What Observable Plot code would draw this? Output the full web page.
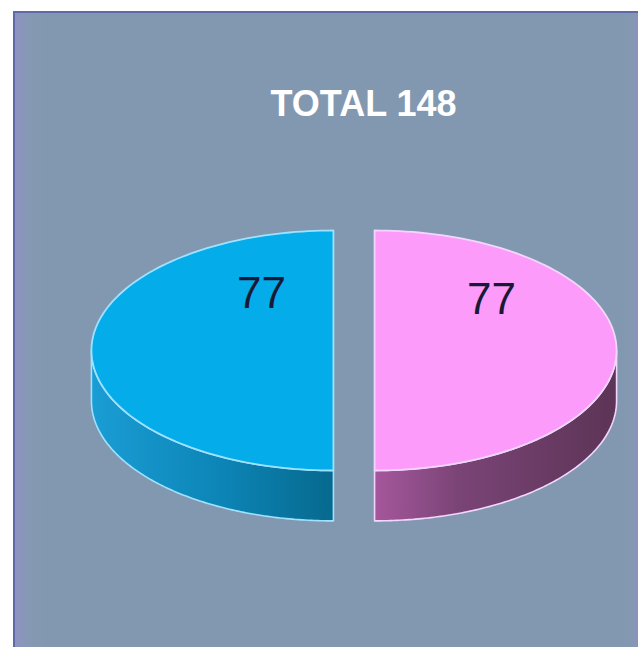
<!DOCTYPE html>
<html>
<head>
<meta charset="utf-8">
<script src="https://cdn.jsdelivr.net/npm/d3@7"></script>
<script src="https://cdn.jsdelivr.net/npm/@observablehq/plot@0.6"></script>
<style>
  html, body { margin: 0; padding: 0; background: #ffffff; width: 638px; height: 647px; overflow: hidden; }
  #panel {
    position: absolute; left: 13px; top: 11px; right: 0; bottom: 0;
    border-left: 2px solid #5f6aa8; border-top: 2px solid #5f6aa8;
    background: linear-gradient(to right, #8e93c2 0px, #8598b4 14px, #8298b0 30px, #8298b0 610px, #8a94b8 625px);
  }
  #chart { position: absolute; left: 0; top: 0; }
</style>
</head>
<body>
<div id="panel"></div>
<div id="chart"></div>
<script>
// ---- data ----
const categories = ["A", "B"];
const values = [77, 77];
const total = 148;
const titleText = "TOTAL " + total;

// ---- styles ----
const topColors = ["#05acea", "#fd9bfb"];
const edgeColors = ["#9fe2ff", "#f3d6fb"];
const sideGradients = [
  [["0%", "#1a9dd5"], ["55%", "#0c84b5"], ["100%", "#07698e"]],
  [["0%", "#a5579c"], ["35%", "#7a4476"], ["100%", "#5c3456"]]
];
const labelOffsets = [[-72, -57], [117, -51]]; // pixel offsets from exploded slice apex
const explode = 0.085;   // in radius units
const depth = 0.42;      // side thickness, in y radius units

// ---- layout ----
const pie = d3.pie().sort(null).startAngle(Math.PI).endAngle(3 * Math.PI);
const arcs = pie(values);
const P = a => [Math.sin(a), -Math.cos(a)];
const N = 120;

const slices = arcs.map((d, i) => {
  const mid = (d.startAngle + d.endAngle) / 2;
  const [ox, oy] = P(mid).map(v => v * explode);
  const top = [{x: ox, y: oy}];
  for (let k = 0; k <= N; k++) {
    const a = d.startAngle + (d.endAngle - d.startAngle) * k / N;
    const [px, py] = P(a);
    top.push({x: ox + px, y: oy + py});
  }
  top.push({x: ox, y: oy});
  // visible front part of the side: angles between PI/2 and 3PI/2 (mod 2PI)
  const norm = a => ((a % (2 * Math.PI)) + 2 * Math.PI) % (2 * Math.PI);
  let s0 = norm(d.startAngle), s1 = s0 + (d.endAngle - d.startAngle);
  const lo = Math.max(s0, Math.PI / 2), hi = Math.min(s1, 3 * Math.PI / 2);
  const side = [];
  if (hi > lo) {
    const upper = [], lower = [];
    for (let k = 0; k <= N; k++) {
      const a = lo + (hi - lo) * k / N;
      const [px, py] = P(a);
      upper.push({x: ox + px, y: oy + py});
      lower.push({x: ox + px, y: oy + py + depth});
    }
    side.push(...upper, ...lower.reverse(), upper[0]);
  }
  return {i, category: categories[i], value: d.value, ox, oy, top, side};
});

const marks = [];
slices.forEach(s => {
  if (s.side.length) {
    marks.push(Plot.line(s.side, {x: "x", y: "y", fill: `url(#side${s.i})`, stroke: edgeColors[s.i], strokeWidth: 1.6, strokeLinejoin: "round"}));
  }
});
slices.forEach(s => {
  marks.push(Plot.line(s.top, {x: "x", y: "y", fill: topColors[s.i], stroke: edgeColors[s.i], strokeWidth: 1.8, strokeLinejoin: "round"}));
});
slices.forEach(s => {
  marks.push(Plot.text([s], {
    x: "ox", y: "oy", text: d => String(d.value),
    dx: labelOffsets[s.i][0], dy: labelOffsets[s.i][1],
    fontSize: 44, fill: "#161a36", fontFamily: "Liberation Sans, Arial, sans-serif"
  }));
});
marks.push(Plot.text([titleText], {
  frameAnchor: "top", dx: 44, dy: 104, lineAnchor: "middle", text: d => d,
  fontSize: 36, fontWeight: "bold", fill: "#ffffff",
  fontFamily: "Liberation Sans, Arial, sans-serif", letterSpacing: "-0.5px"
}));

const chart = Plot.plot({
  width: 638, height: 647,
  margin: 0,
  style: {background: "transparent", overflow: "visible"},
  x: {domain: [-1, 1], range: [111.5, 595.5], axis: null},
  y: {domain: [-1, 1], range: [230, 470], axis: null},
  marks
});

// gradient definitions for the side faces
const ns = "http://www.w3.org/2000/svg";
const defs = document.createElementNS(ns, "defs");
sideGradients.forEach((stops, i) => {
  const g = document.createElementNS(ns, "linearGradient");
  g.setAttribute("id", "side" + i);
  g.setAttribute("x1", "0"); g.setAttribute("x2", "1");
  g.setAttribute("y1", "0"); g.setAttribute("y2", "0");
  stops.forEach(([o, c]) => {
    const st = document.createElementNS(ns, "stop");
    st.setAttribute("offset", o); st.setAttribute("stop-color", c);
    g.appendChild(st);
  });
  defs.appendChild(g);
});
chart.insertBefore(defs, chart.firstChild);
document.getElementById("chart").appendChild(chart);
</script>
</body>
</html>
